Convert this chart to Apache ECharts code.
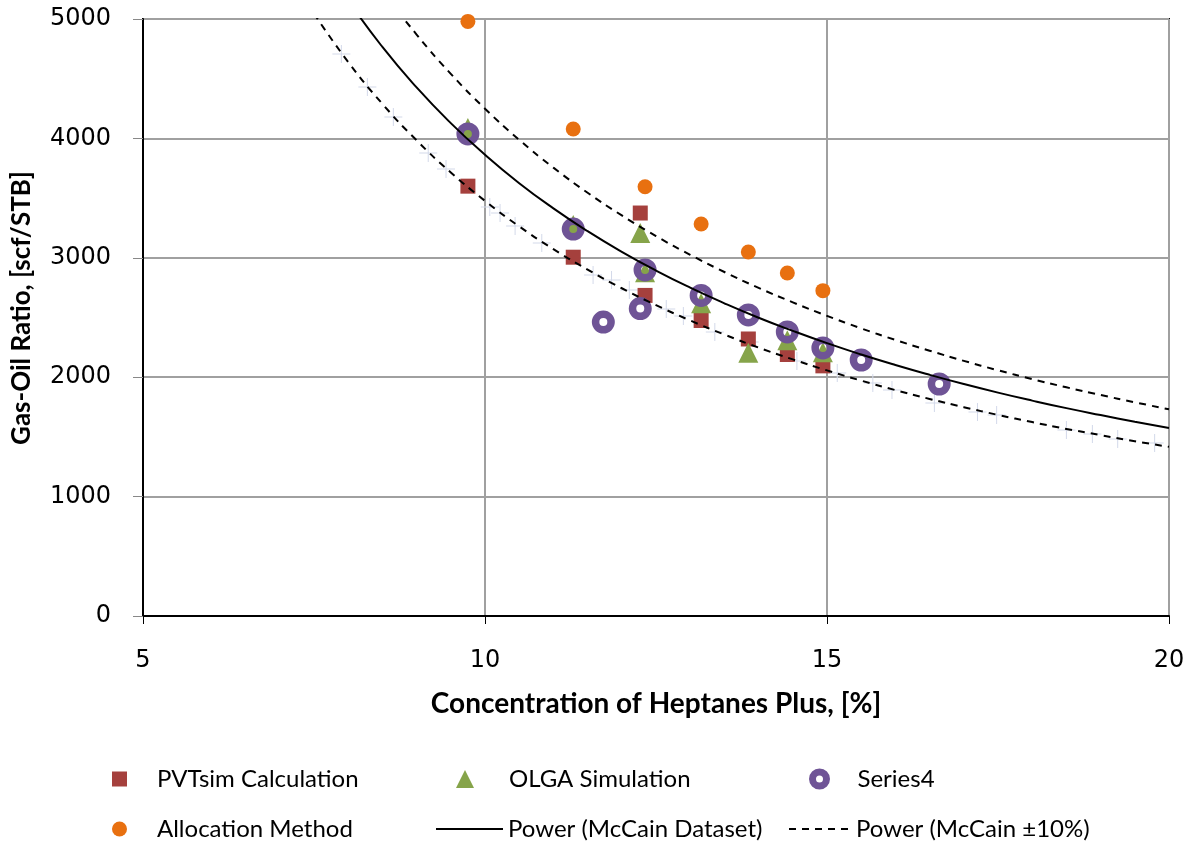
<!DOCTYPE html>
<html>
<head>
<meta charset="utf-8">
<script src="https://cdn.jsdelivr.net/npm/echarts@6/dist/echarts.min.js"></script>
<style>
  html, body { margin: 0; padding: 0; background: #fff; }
  #main { width: 1193px; height: 842px; }
</style>
</head>
<body>
<div id="main"></div>
<script>
// data
var pvtX = [9.75, 11.29, 12.27, 12.34, 13.16, 13.85, 14.42, 14.94];
var pvtY = [3600, 3005, 3375, 2685, 2475, 2320, 2190, 2095];

var olgaX = [9.75, 11.29, 12.27, 12.34, 13.16, 13.85, 14.42, 14.94];
var olgaY = [4087, 3275, 3208, 2880, 2620, 2205, 2310, 2210];

var s4X = [9.75, 11.29, 11.73, 12.27, 12.34, 13.16, 13.85, 14.42, 14.94, 15.50, 16.64];
var s4Y = [4037, 3241, 2462, 2575, 2898, 2685, 2521, 2379, 2245, 2144, 1943];

var allocX = [9.75, 11.29, 12.34, 13.16, 13.85, 14.42, 14.94];
var allocY = [4980, 4079, 3595, 3283, 3049, 2873, 2725];

// faint McCain dataset points
var mccX = [7.90, 8.28, 8.66, 9.17, 9.43, 10.07, 10.22, 10.44, 10.83, 11.58, 11.85, 12.11, 12.65, 12.90,
            13.36, 13.87, 14.56, 15.15, 15.67, 15.95, 16.57, 17.20, 17.48, 18.50, 18.88, 19.25, 19.79];
var mccY = [4707, 4430, 4179, 3878, 3744, 3425, 3375, 3266, 3124, 2856, 2814, 2730, 2571, 2513,
            2379, 2295, 2136, 2035, 1951, 1893, 1784, 1709, 1683, 1558, 1524, 1482, 1449];

// trend lines
var trendX = [7.5, 8, 8.5, 9, 9.5, 10, 10.5, 11, 11.5, 12, 12.5, 13, 13.5, 14, 14.5, 15,
              15.5, 16, 16.5, 17, 17.5, 18, 18.5, 19, 19.5, 20];
var powerY = [5605, 5156, 4766, 4427, 4128, 3863, 3625, 3414, 3223, 3050, 2893, 2750, 2619, 2498,
              2388, 2285, 2190, 2102, 2020, 1943, 1871, 1804, 1741, 1683, 1627, 1574];
var upperY = [6166, 5672, 5243, 4870, 4541, 4249, 3988, 3755, 3545, 3355, 3182, 3025, 2881, 2748,
              2627, 2514, 2409, 2312, 2222, 2137, 2058, 1984, 1915, 1851, 1790, 1731];
var lowerY = [5045, 4640, 4289, 3984, 3715, 3477, 3263, 3073, 2901, 2745, 2604, 2475, 2357, 2248,
              2149, 2057, 1971, 1892, 1818, 1749, 1684, 1624, 1567, 1515, 1464, 1417];

function pairs(xs, ys) {
  return xs.map(function (x, i) { return [x, ys[i]]; });
}

var myChart = echarts.init(document.getElementById('main'));

var legendText = { fontFamily: 'Lato', fontSize: 24, color: '#000' };

function legendAt(name, left, top, w, h, pad, extra) {
  var lg = {
    data: [name],
    left: left,
    top: top,
    itemWidth: w,
    itemHeight: h,
    selectedMode: false,
    textStyle: Object.assign({}, legendText, { padding: [0, 0, 0, pad] })
  };
  return Object.assign(lg, extra || {});
}

var option = {
  animation: false,
  backgroundColor: '#fff',
  grid: {
    left: 143,
    right: 24,
    top: 19,
    bottom: 226,
    show: true,
    borderColor: '#000',
    borderWidth: 2,
    containLabel: false
  },
  legend: [
    legendAt('PVTsim Calculation', 107, 762, 15, 15, 25),
    legendAt('OLGA Simulation', 451, 762, 18, 18, 30),
    legendAt('Series4', 804, 762, 14, 14, 26, { itemStyle: { color: 'transparent', borderColor: '#6F5496', borderWidth: 7, opacity: 1 } }),
    legendAt('Allocation Method', 107, 812, 15, 15, 25),
    legendAt('Power (McCain Dataset)', 430, 812, 67, 14, 0, { itemStyle: { opacity: 0 } }),
    legendAt('Power (McCain ±10%)', 783, 812, 62, 14, 0, { itemStyle: { opacity: 0 } })
  ],
  xAxis: {
    type: 'value',
    min: 5,
    max: 20,
    interval: 5,
    name: 'Concentration of Heptanes Plus, [%]',
    nameLocation: 'middle',
    nameGap: 74,
    nameTextStyle: { fontFamily: 'Lato', fontWeight: 'bold', fontSize: 28, color: '#000' },
    axisLine: { show: true, lineStyle: { color: '#000', width: 2 } },
    axisTick: { show: true, inside: false, length: 8, lineStyle: { color: '#000', width: 1 } },
    axisLabel: { fontFamily: 'DejaVu Sans', fontSize: 24, color: '#000', margin: 33 },
    splitLine: { show: true, lineStyle: { color: '#A0A0A0', width: 2 } }
  },
  yAxis: {
    type: 'value',
    min: 0,
    max: 5000,
    interval: 1000,
    name: 'Gas-Oil Ratio, [scf/STB]',
    nameLocation: 'middle',
    nameGap: 108,
    nameTextStyle: { fontFamily: 'Lato', fontWeight: 'bold', fontSize: 26, color: '#000', padding: [0, 0, 0, 19] },
    axisLine: { show: true, lineStyle: { color: '#000', width: 2 } },
    axisTick: { show: true, inside: false, length: 10, lineStyle: { color: '#888', width: 1 } },
    axisLabel: {
      fontFamily: 'DejaVu Sans', fontSize: 24, color: '#000', margin: 32,
      formatter: function (v) { return String(v); }
    },
    splitLine: { show: true, lineStyle: { color: '#A0A0A0', width: 2 } }
  },
  series: [
    {
      name: 'McCain Dataset',
      type: 'scatter',
      symbol: 'path://M0,8.5H18V9.5H0ZM8.5,0H9.5V18H8.5Z',
      symbolSize: 18,
      itemStyle: { color: '#D3D9EA', opacity: 1 },
      data: pairs(mccX, mccY)
    },
    {
      name: 'PVTsim Calculation',
      type: 'scatter',
      symbol: 'rect',
      symbolSize: 15,
      itemStyle: { color: '#A5403D', opacity: 1 },
      data: pairs(pvtX, pvtY)
    },
    {
      name: 'OLGA Simulation',
      type: 'scatter',
      symbol: 'triangle',
      symbolSize: 20,
      itemStyle: { color: '#86A44A', opacity: 1 },
      data: pairs(olgaX, olgaY)
    },
    {
      name: 'Series4',
      type: 'scatter',
      symbol: 'circle',
      symbolSize: 15.5,
      itemStyle: { color: 'transparent', borderColor: '#6F5496', borderWidth: 7.5, opacity: 1 },
      data: pairs(s4X, s4Y)
    },
    {
      name: 'Allocation Method',
      type: 'scatter',
      symbol: 'circle',
      symbolSize: 15,
      itemStyle: { color: '#E87010', opacity: 1 },
      data: pairs(allocX, allocY)
    },
    {
      name: 'Power (McCain Dataset)',
      type: 'line',
      smooth: true,
      showSymbol: false,
      symbol: 'none',
      lineStyle: { color: '#000', width: 2, type: 'solid' },
      itemStyle: { color: '#000' },
      data: pairs(trendX, powerY)
    },
    {
      name: 'Power (McCain ±10%)',
      type: 'line',
      smooth: true,
      showSymbol: false,
      symbol: 'none',
      lineStyle: { color: '#000', width: 2, type: [7, 6] },
      itemStyle: { color: '#000' },
      data: pairs(trendX, upperY)
    },
    {
      name: 'Power (McCain ±10%)',
      type: 'line',
      smooth: true,
      showSymbol: false,
      symbol: 'none',
      lineStyle: { color: '#000', width: 2, type: [7, 6] },
      itemStyle: { color: '#000' },
      data: pairs(trendX, lowerY)
    }
  ]
};

myChart.setOption(option);
</script>
</body>
</html>
